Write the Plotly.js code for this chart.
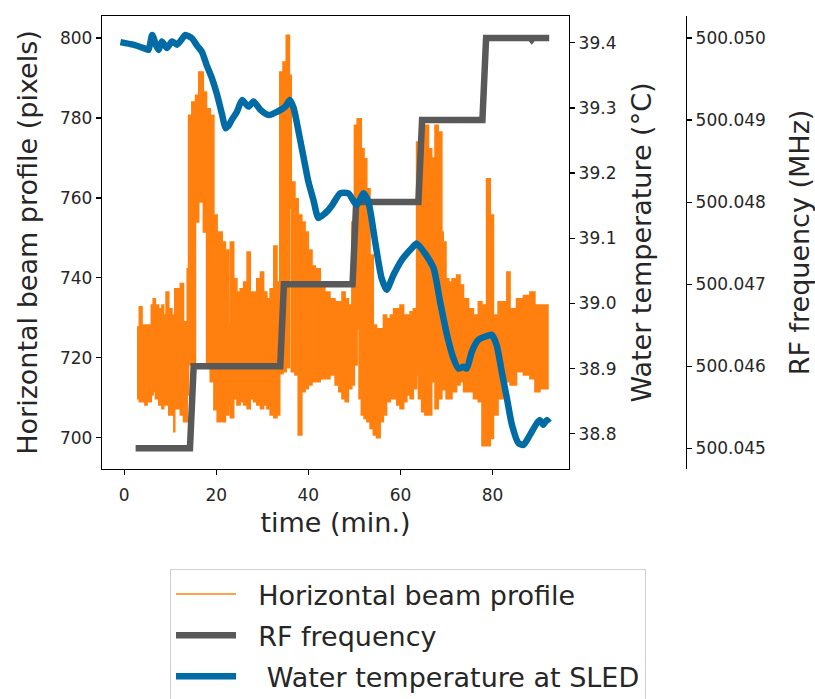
<!DOCTYPE html>
<html>
<head>
<meta charset="utf-8">
<script src="https://cdn.plot.ly/plotly-3.0.1.min.js"></script>
<style>html,body{margin:0;padding:0;background:#fff;}#chart{width:815px;height:699px;}</style>
</head>
<body>
<div id="chart"></div>
<script>
// Horizontal beam profile: envelope (upper / lower) of the dense signal
var beamTime = [2.8,3.3,3.9,4.5,5.0,5.9,6.3,6.8,7.5,8.2,8.6,9.1,9.7,10.4,10.8,11.0,11.5,12.2,12.9,13.7,14.0,14.7,15.5,16.2,16.9,17.2,17.9,18.7,19.5,20.2,21.3,22.0,22.7,
  23.06,23.8,24.5,25.2,25.95,26.7,27.4,28.1,28.8,29.6,30.3,31.0,31.7,32.5,33.2,33.8,34.5,35.2,35.9,36.3,37.1,37.8,38.6,39.3,40.0,40.8,41.5,42.6,43.6,44.7,45.8,
  46.6,47.3,48.0,48.7,49.45,50.0,50.6,51.0,51.5,52.1,52.7,53.4,54.1,54.8,55.6,56.3,57.0,57.8,58.5,59.2,59.9,60.7,61.4,62.1,62.8,63.5,63.9,64.6,65.3,66.1,66.8,67.5,68.2,69.0,
  69.3,69.9,70.5,71.2,72.2,72.95,73.7,74.8,75.85,76.9,77.7,78.7,79.5,80.2,81.2,82.3,83.1,83.8,85.2,86.7,88.1,89.2,90.3,92.2];
var beamHigh = [727.7,732.8,728.2,728.2,728.2,733.2,734.8,733.2,732.3,733.2,730.7,736.5,732.3,730.7,730.7,737.3,737.3,738.6,729.0,742.3,780.7,784.0,785.7,791.5,791.5,786.5,782.3,780.7,755.7,751.5,749.0,747.0,728.2,
  749.0,739.8,736.5,737.3,739.0,746.5,736.5,736.5,739.8,741.5,736.5,734.8,737.3,748.0,739.0,791.5,794.0,800.7,790.7,764.0,759.8,755.7,754.0,751.5,747.0,743.0,742.3,739.0,736.5,734.8,734.0,
  734.0,736.5,734.8,733.2,754.0,778.2,779.8,779.8,772.3,769.8,762.3,745.7,728.2,727.3,727.3,730.7,729.8,730.7,732.3,732.3,733.2,730.7,730.7,731.5,732.3,774.0,774.0,778.2,778.2,772.3,770.0,778.2,776.5,751.5,
  749.0,739.8,739.0,739.8,740.7,738.2,734.8,732.3,730.7,734.0,733.2,764.8,755.7,730.7,734.0,734.0,741.5,732.3,734.8,735.6,736.5,733.2,733.2,733.2];
var beamLow = [709.8,709.0,709.0,708.2,709.0,710.7,711.5,709.8,708.2,707.3,708.2,708.2,705.7,705.7,701.5,707.3,707.3,705.7,704.0,710.7,718.2,718.2,754.0,759.0,759.0,751.5,717.5,714.0,707.0,704.0,704.0,705.7,708.2,
  705.0,709.8,708.2,709.0,708.2,707.3,709.8,709.0,708.2,707.3,708.2,707.3,705.7,705.0,705.7,716.0,716.5,717.5,757.5,716.5,715.7,700.7,711.5,712.3,713.2,714.0,714.0,714.8,714.8,715.7,713.2,
  711.5,709.8,709.0,712.3,713.2,718.2,727.3,709.8,705.7,704.8,704.0,702.3,700.7,700.0,704.0,705.7,709.0,709.8,709.8,708.2,707.3,709.0,710.7,709.8,712.3,715.7,709.8,706.5,705.7,705.7,714.0,707.3,709.8,714.0,
  712.0,709.8,709.8,711.5,713.2,714.0,711.5,711.5,709.8,709.0,698.0,698.0,699.8,705.7,709.8,714.0,714.0,713.2,716.5,715.7,714.8,711.5,712.3,712.3];

// RF frequency (MHz)
var rfTime  = [2.5,14.3,15.1,33.9,34.7,49.6,50.4,63.9,64.7,77.8,78.6,88.2,88.5,88.8,92.3];
var rfValue = [500.045,500.045,500.046,500.046,500.047,500.047,500.048,500.048,500.049,500.049,500.050,500.050,500.04998,500.050,500.050];

// Water temperature at SLED (°C)
var tempTime = [-0.8,2.0,4.5,5.3,6.1,7.0,7.5,8.2,9.3,10.4,11.5,12.5,13.3,14.7,15.8,16.9,17.9,19.1,20.2,21.3,22.0,22.6,23.4,24.5,25.6,27.0,28.1,29.6,31.4,33.2,35.0,36.0,36.8,37.9,39.0,40.0,41.1,42.2,43.6,45.1,46.9,48.7,50.5,52.0,53.1,54.5,55.9,57.0,58.5,60.3,62.5,63.5,65.3,67.2,68.6,70.1,71.5,72.6,73.7,74.4,75.5,76.9,78.4,79.8,80.9,82.0,83.1,84.2,85.6,86.7,88.1,89.6,90.3,91.0,91.75,92.3];
var tempValue = [39.401,39.397,39.391,39.389,39.412,39.395,39.389,39.402,39.392,39.402,39.397,39.405,39.412,39.407,39.396,39.386,39.366,39.345,39.320,39.289,39.269,39.272,39.282,39.294,39.312,39.302,39.310,39.297,39.289,39.294,39.302,39.312,39.300,39.263,39.223,39.187,39.159,39.131,39.138,39.150,39.169,39.169,39.151,39.169,39.154,39.095,39.039,39.021,39.044,39.067,39.085,39.092,39.077,39.054,39.003,38.952,38.916,38.900,38.903,38.900,38.926,38.944,38.949,38.952,38.936,38.895,38.855,38.814,38.786,38.783,38.798,38.816,38.821,38.814,38.821,38.817];

var xTicks = [0,20,40,60,80];
var beamTicks = [700,720,740,760,780,800];
var tempTicks = [38.8,38.9,39.0,39.1,39.2,39.3,39.4];
var rfTicks = [500.045,500.046,500.047,500.048,500.049,500.050];

var ORANGE = '#FF800E', GRAY = '#595959', BLUE = '#006BA4';
var FONT = 'DejaVu Sans, Verdana, sans-serif';
var TXT = '#262626';
var NB = '\u00a0', TH = '\u2009';

var traces = [
  {x: beamTime, y: beamHigh, type: 'scatter', mode: 'lines', line: {color: ORANGE, width: 1.5, shape: 'hv'},
   name: NB + NB + 'Horizontal beam profile', legendgroup: 'a', xaxis: 'x', yaxis: 'y', hoverinfo: 'skip'},
  {x: beamTime, y: beamLow, type: 'scatter', mode: 'lines', line: {color: ORANGE, width: 1.5, shape: 'hv'},
   fill: 'tonexty', fillcolor: ORANGE, showlegend: false, legendgroup: 'a', xaxis: 'x', yaxis: 'y', hoverinfo: 'skip'},
  {x: rfTime, y: rfValue, type: 'scatter', mode: 'lines', line: {color: GRAY, width: 6.5},
   name: NB + NB + 'RF frequency', legendgroup: 'b', xaxis: 'x', yaxis: 'y2'},
  {x: tempTime, y: tempValue, type: 'scatter', mode: 'lines', line: {color: BLUE, width: 6.5, shape: 'spline', smoothing: 0.6},
   name: NB + NB + NB + 'Water temperature at SLED', legendgroup: 'c', xaxis: 'x', yaxis: 'y3'}
];

var plotW = 815 - 102 - 20;
var plotH = 699 - 16 - 230;
var axisCommon = {showgrid: false, zeroline: false, showline: true, linecolor: '#000', linewidth: 1.2,
  ticks: 'outside', ticklen: 5, tickwidth: 1.2, tickcolor: '#000',
  tickfont: {family: FONT, size: 17, color: TXT}};
var titleFont = {family: FONT, size: 27, color: TXT};

var layout = {
  width: 815, height: 699,
  margin: {l: 102, r: 20, t: 16, b: 230, pad: 0, autoexpand: false},
  paper_bgcolor: '#fff', plot_bgcolor: '#fff',
  font: {family: FONT, color: TXT},
  showlegend: true,
  xaxis: Object.assign({}, axisCommon, {domain: [0, 467 / plotW], range: [-4.8, 96.6], tickvals: xTicks,
    mirror: true, ticklabelstandoff: 5, title: {text: 'time (min.)', font: titleFont, standoff: 9}}),
  yaxis: Object.assign({}, axisCommon, {range: [692.2, 805.5], tickvals: beamTicks, ticksuffix: NB + TH,
    title: {text: 'Horizontal beam profile (pixels)', font: titleFont, standoff: 14}}),
  yaxis2: Object.assign({}, axisCommon, {overlaying: 'y', side: 'right', anchor: 'free', position: (686 - 102) / plotW,
    range: [500.044748, 500.050268], tickvals: rfTicks, tickformat: '.3f', tickprefix: NB + TH,
    title: {text: 'RF frequency (MHz)', font: titleFont, standoff: 25}}),
  yaxis3: Object.assign({}, axisCommon, {overlaying: 'y', side: 'right', anchor: 'x',
    range: [38.746, 39.441], tickvals: tempTicks, tickformat: '.1f', tickprefix: NB + TH,
    title: {text: 'Water temperature (°C)', font: titleFont, standoff: 16}}),
  legend: {x: (170 - 102) / plotW, y: -(569 - 469) / plotH, xanchor: 'left', yanchor: 'top',
    bgcolor: '#fff', bordercolor: '#d0d0d0', borderwidth: 1,
    font: {family: FONT, size: 27, color: TXT}, traceorder: 'grouped', tracegroupgap: 3, itemwidth: 60}
};

Plotly.newPlot('chart', traces, layout, {displayModeBar: false, staticPlot: true});
</script>
</body>
</html>
